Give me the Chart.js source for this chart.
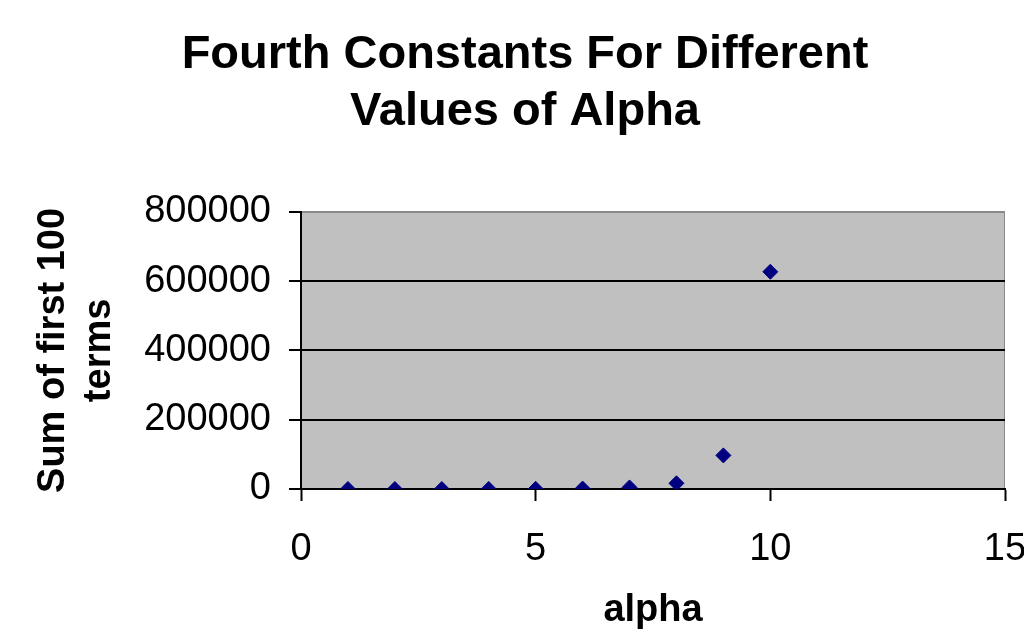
<!DOCTYPE html>
<html>
<head>
<meta charset="utf-8">
<script src="https://cdn.jsdelivr.net/npm/chart.js@4/dist/chart.umd.min.js"></script>
<style>
	html, body { margin: 0; padding: 0; background: #fff; overflow: hidden; }
	#wrap { width: 1024px; height: 637px; position: relative; }
</style>
</head>
<body>
<div id="wrap"><canvas id="chart"></canvas></div>
<script>
// values
const alphaValues = [1, 2, 3, 4, 5, 6, 7, 8, 9, 10]
const sumValues = [0.5, 3, 20, 100, 400, 1300, 4500, 16500, 97000, 627000]
const yTicks = [0, 200000, 400000, 600000, 800000]
const xTicks = [0, 5, 10, 15]

const font = "'Liberation Sans', Arial, sans-serif"

//grey plot area with a thin border, like the old spreadsheet charts
const plotBackground = {
	id: 'plotBackground',
	beforeDraw: chart => {
		const { ctx, chartArea: a } = chart
		ctx.save()
		ctx.fillStyle = '#c0c0c0'
		ctx.fillRect(a.left, a.top, a.right - a.left, a.bottom - a.top)
		ctx.strokeStyle = '#8a8a8a'
		ctx.lineWidth = 1
		ctx.strokeRect(a.left + 0.5, a.top + 0.5, a.right - a.left - 1, a.bottom - a.top)
		ctx.restore()
	},
}

const ctx = document.querySelector('#chart').getContext('2d')

new Chart(ctx, {
	type: 'scatter',
	data: {
		datasets: [
			{
				data: alphaValues.map((x, i) => ({ x: x, y: sumValues[i] })),
				pointStyle: 'rectRot',
				pointRadius: 7.5,
				backgroundColor: '#000080',
				borderColor: '#000080',
				borderWidth: 1,
			},
		],
	},
	options: {
		responsive: true,
		maintainAspectRatio: false,
		animation: false,
		layout: { padding: { left: 26, right: 0, top: 0, bottom: 0 } },
		plugins: {
			legend: { display: false },
			tooltip: { enabled: false },
			title: {
				display: true,
				text: ['Fourth Constants For Different', 'Values of Alpha'],
				color: '#000',
				font: { family: font, size: 47, weight: 'bold', lineHeight: 1.2 },
				padding: { top: 27, bottom: 72 },
			},
		},
		scales: {
			x: {
				type: 'linear',
				min: 0,
				max: 15,
				afterBuildTicks: scale => {
					scale.ticks = xTicks.map(v => ({ value: v }))
				},
				afterFit: scale => {
					scale.height = 148
					scale.paddingRight = 19
				},
				grid: {
					drawOnChartArea: false,
					drawTicks: true,
					tickLength: 12,
					tickColor: '#000',
					tickWidth: 2,
				},
				border: { display: true, color: '#000', width: 2 },
				ticks: {
					color: '#000',
					padding: 26,
					maxRotation: 0,
					font: { family: font, size: 38 },
				},
				title: {
					display: true,
					text: 'alpha',
					color: '#000',
					font: { family: font, size: 38, weight: 'bold', lineHeight: 1.2 },
					padding: { top: 0, bottom: 4 },
				},
			},
			y: {
				type: 'linear',
				min: 0,
				max: 800000,
				afterBuildTicks: scale => {
					scale.ticks = yTicks.map(v => ({ value: v }))
				},
				afterFit: scale => {
					scale.width = 275
				},
				grid: {
					color: c => (c.tick && c.tick.value === 800000 ? '#8a8a8a' : '#000'),
					lineWidth: 2,
					drawTicks: true,
					tickLength: 12,
					tickColor: '#000',
					tickWidth: 2,
				},
				border: { display: true, color: '#000', width: 2 },
				ticks: {
					color: '#000',
					padding: 18,
					font: { family: font, size: 38 },
					callback: v => String(v),
				},
				title: {
					display: true,
					text: ['Sum of first 100', 'terms'],
					color: '#000',
					font: { family: font, size: 38, weight: 'bold', lineHeight: 1.2 },
					padding: { top: 5, bottom: 0 },
				},
			},
		},
	},
	plugins: [plotBackground],
})
</script>
</body>
</html>
